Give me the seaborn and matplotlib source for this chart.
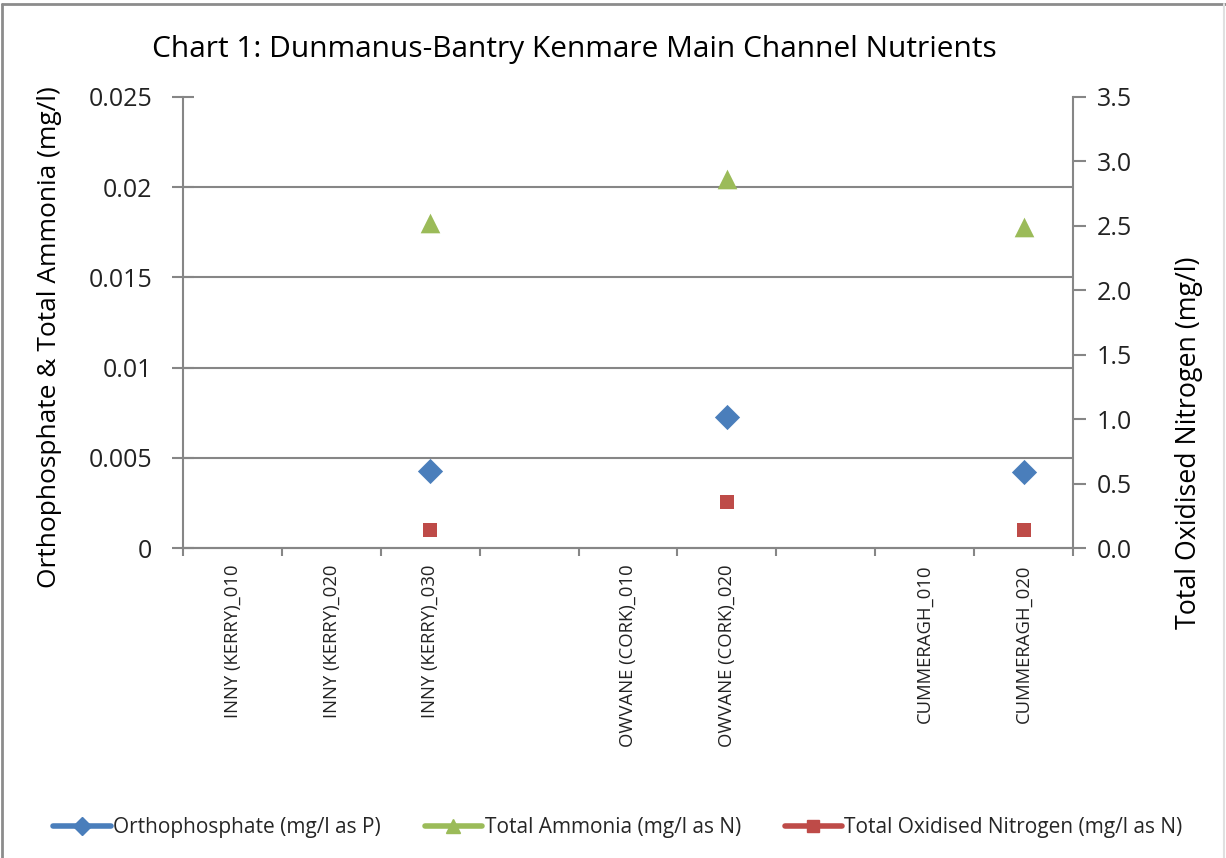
import numpy as np
import pandas as pd
import matplotlib
matplotlib.use("Agg")
import matplotlib.pyplot as plt
from matplotlib.lines import Line2D
from matplotlib.ticker import FixedLocator, NullFormatter
import seaborn as sns

# ---- data ----
categories = ["INNY (KERRY)_010", "INNY (KERRY)_020", "INNY (KERRY)_030", "",
              "OWVANE (CORK)_010", "OWVANE (CORK)_020", "",
              "CUMMERAGH_010", "CUMMERAGH_020"]
orthophosphate = [np.nan, np.nan, 0.00425, np.nan, np.nan, 0.00726, np.nan, np.nan, 0.0042]
total_ammonia = [np.nan, np.nan, 0.0180, np.nan, np.nan, 0.02045, np.nan, np.nan, 0.0178]
total_oxidised_n = [np.nan, np.nan, 0.142, np.nan, np.nan, 0.354, np.nan, np.nan, 0.142]
left_ticks = [0, 0.005, 0.01, 0.015, 0.02, 0.025]
left_tick_labels = ["0", "0.005", "0.01", "0.015", "0.02", "0.025"]
right_ticks = [0.0, 0.5, 1.0, 1.5, 2.0, 2.5, 3.0, 3.5]
series_names = ["Orthophosphate (mg/l as P)", "Total Ammonia (mg/l as N)",
                "Total Oxidised Nitrogen (mg/l as N)"]
title = "Chart 1: Dunmanus-Bantry Kenmare Main Channel Nutrients"
left_label = "Orthophosphate & Total Ammonia (mg/l)"
right_label = "Total Oxidised Nitrogen (mg/l)"

sns.set_theme(style="white")
plt.rcParams['font.family'] = ['Open Sans', 'DejaVu Sans']

BLUE = "#4A7EBB"
GREEN = "#9BBB59"
RED = "#BE4B48"
AXC = "#868686"
TXT = "#000000"

pos = np.arange(len(categories))
df = pd.DataFrame({"pos": pos, "ortho": orthophosphate, "amm": total_ammonia,
                   "ton": total_oxidised_n})

fig = plt.figure(figsize=(12.26, 8.58), dpi=100)
ax = fig.add_axes([183/1226, 1-548/858, (1073-183)/1226, (548-97)/858])
ax2 = ax.twinx()

sns.scatterplot(data=df, x="pos", y="ortho", ax=ax, marker="D", s=165, color=BLUE,
                edgecolor=BLUE, linewidth=0, zorder=5)
sns.scatterplot(data=df, x="pos", y="amm", ax=ax, marker="^", s=200, color=GREEN,
                edgecolor=GREEN, linewidth=0, zorder=5)
sns.scatterplot(data=df, x="pos", y="ton", ax=ax2, marker="s", s=115, color=RED,
                edgecolor=RED, linewidth=0, zorder=5)

ax.set_xlim(-0.5, len(categories) - 0.5)
ax.set_ylim(0, 0.025)
ax2.set_ylim(0, 3.5)

# gridlines (not at top)
for t in left_ticks[1:-1]:
    ax.axhline(t, color=AXC, lw=1.5, zorder=1)

ax.set_yticks(left_ticks)
ax.set_yticklabels(left_tick_labels)
ax2.set_yticks(right_ticks)
ax2.set_yticklabels([f"{v:.1f}" for v in right_ticks])

ax.set_xticks(pos)
ax.set_xticklabels(categories, rotation=90, fontsize=13.3, color="#222222")
ax.xaxis.set_minor_locator(FixedLocator(np.arange(-0.5, len(categories), 1.0)))
ax.xaxis.set_minor_formatter(NullFormatter())
ax.tick_params(axis="x", which="major", length=0, pad=12)
ax.tick_params(axis="x", which="minor", length=6, width=1.5, color=AXC, direction="out",
               bottom=True)
ax.tick_params(axis="y", which="major", length=16, width=1.5, color=AXC, direction="inout",
               labelsize=18, pad=14, left=True, labelcolor="#222222")
ax2.tick_params(axis="y", which="major", length=9, width=1.5, color=AXC, direction="out",
                labelsize=18, pad=8, right=True, labelcolor="#222222")

for a in (ax, ax2):
    a.set_xlabel("")
    a.spines["top"].set_visible(False)
    for s in ("left", "right", "bottom"):
        a.spines[s].set_color(AXC)
        a.spines[s].set_linewidth(1.5)
ax2.spines["left"].set_visible(False)
ax.spines["right"].set_visible(False)
ax.grid(False)
ax2.grid(False)

ax.set_ylabel(left_label, fontsize=19, color=TXT)
ax.yaxis.set_label_coords((62 - 183) / 890, (548 - 337) / 451)
ax2.set_ylabel(right_label, fontsize=19.3, color=TXT)
ax2.yaxis.set_label_coords((1175 - 183) / 890, (548 - 443) / 451)

fig.text(574/1226, 1-49/858, title, ha="center", va="center", fontsize=21.5, color=TXT)

handles = [
    Line2D([0], [0], color=BLUE, lw=4, marker="D", markersize=9),
    Line2D([0], [0], color=GREEN, lw=4, marker="^", markersize=10),
    Line2D([0], [0], color=RED, lw=4, marker="s", markersize=9),
]
fig.legend(handles, series_names, loc="center", bbox_to_anchor=(618/1226, 1-828/858),
           ncol=3, frameon=False, fontsize=15, handlelength=2.75, handletextpad=0.12,
           columnspacing=2.1)

# chart border
fig.add_artist(Line2D([2/1226, 2/1226], [0, 1-4/858], transform=fig.transFigure,
                      color="#8C8C8C", lw=2))
fig.add_artist(Line2D([2/1226, 1], [1-4/858, 1-4/858], transform=fig.transFigure,
                      color="#8C8C8C", lw=2))
fig.add_artist(Line2D([1224/1226, 1224/1226], [0, 1-4/858], transform=fig.transFigure,
                      color="#E0E0E0", lw=1.5))

fig.savefig("out.png", dpi=100, facecolor="white")
